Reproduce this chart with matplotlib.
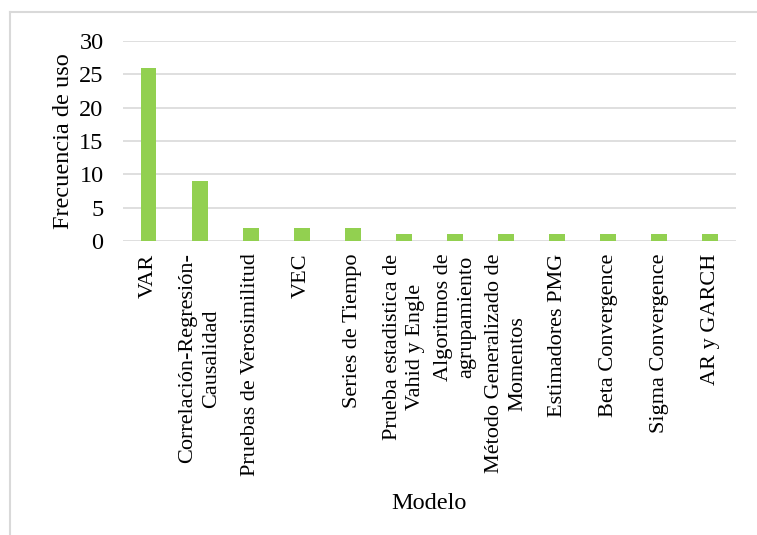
import matplotlib.pyplot as plt
from matplotlib.lines import Line2D

# Frecuencia de uso de cada modelo
modelos = [
    "VAR",
    "Correlación-Regresión-\nCausalidad",
    "Pruebas de Verosimilitud",
    "VEC",
    "Series de Tiempo",
    "Prueba estadistica de\nVahid y Engle",
    "Algoritmos de\nagrupamiento",
    "Método Generalizado de\nMomentos",
    "Estimadores PMG",
    "Beta Convergence",
    "Sigma Convergence",
    "AR y GARCH",
]
frecuencia = [26, 9, 2, 2, 2, 1, 1, 1, 1, 1, 1, 1]
yticks = [0, 5, 10, 15, 20, 25, 30]

plt.rcParams['font.family'] = ['Liberation Serif', 'DejaVu Serif']
grid_color = '#d9d9d9'
bar_color = '#92d050'

fig = plt.figure(figsize=(7.57, 5.35), dpi=100)
ax = fig.add_axes([0.1625, 0.5495, 0.8095, 0.3739])

x = range(len(modelos))
ax.bar(x, frecuencia, width=0.31, color=bar_color, zorder=3)

ax.set_xlim(-0.5, len(modelos) - 0.5)
ax.set_ylim(0, 30)
ax.set_yticks(yticks)
ax.yaxis.grid(True, color=grid_color, linewidth=1.2, zorder=0)
for s in ax.spines.values():
    s.set_visible(False)
ax.tick_params(axis='both', length=0)
ax.tick_params(axis='y', labelsize=17.5, pad=14)

ax.set_xticks(list(x))
ax.set_xticklabels(modelos, rotation=90, fontsize=16, ha='center', va='top',
                   multialignment='center', linespacing=1.3)
ax.tick_params(axis='x', pad=9)

ax.set_ylabel('Frecuencia de uso', fontsize=17.5, labelpad=4)
ax.set_xlabel('Modelo', fontsize=17.5, labelpad=12)

# marco del gráfico
fig.add_artist(Line2D([10 / 757, 1], [1 - 12 / 535, 1 - 12 / 535],
                      transform=fig.transFigure, color=grid_color, lw=1.5))
fig.add_artist(Line2D([10 / 757, 10 / 757], [0, 1 - 12 / 535],
                      transform=fig.transFigure, color=grid_color, lw=1.5))

fig.savefig('out.png', dpi=100)
